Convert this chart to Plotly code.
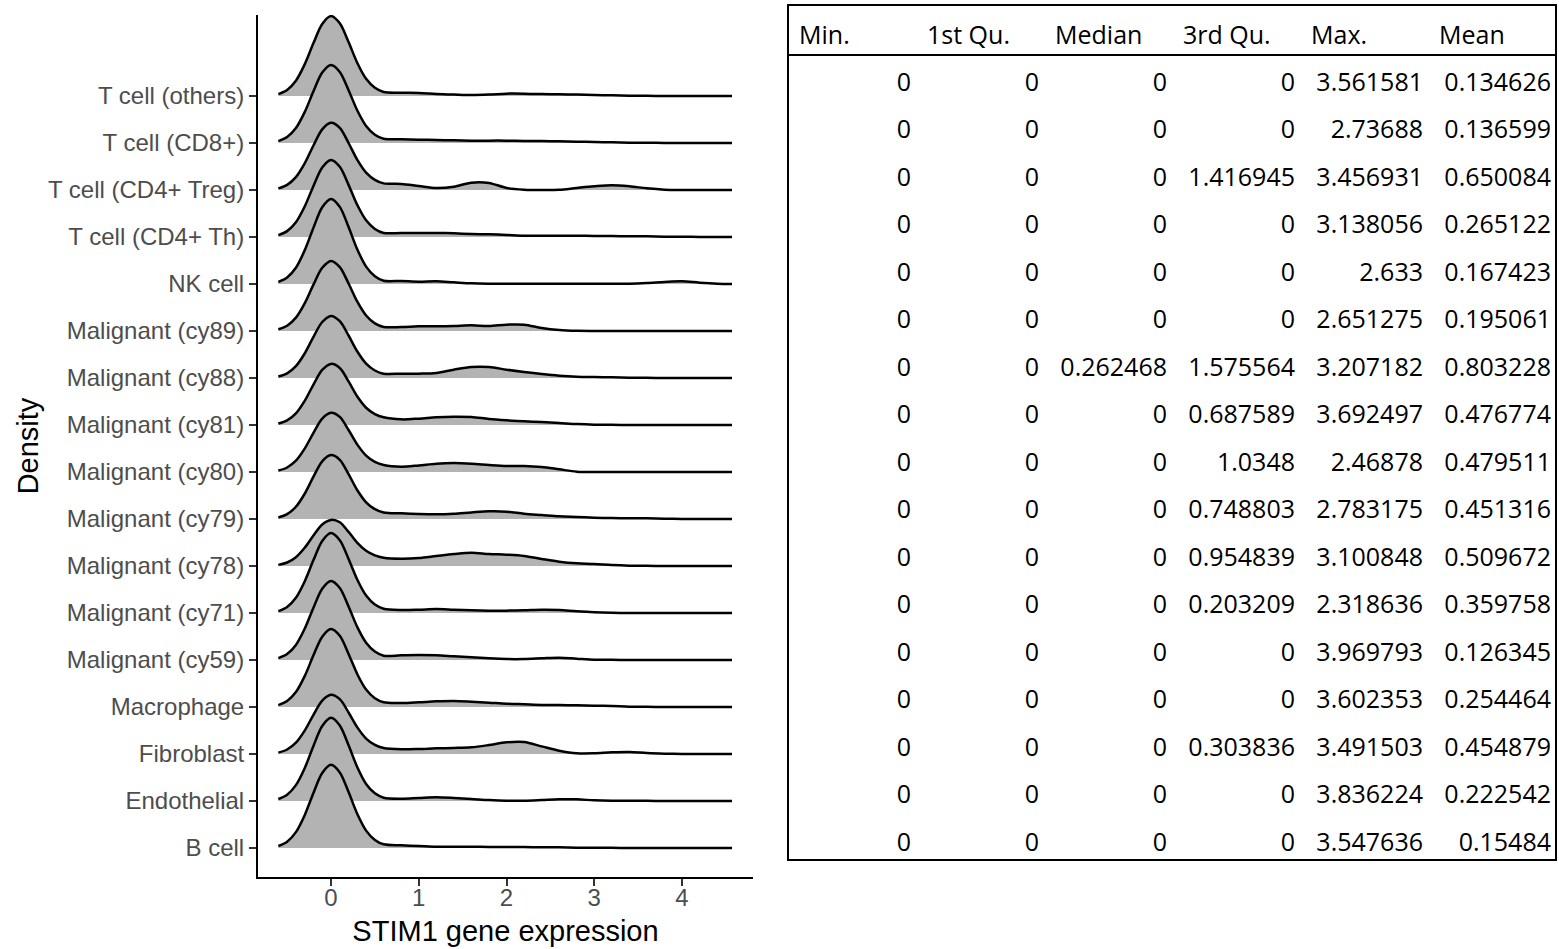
import plotly.graph_objects as go

W, H = 1559, 949

# ---------------- ridgeline data (bottom -> top) ----------------
cell_types = [
    "B cell", "Endothelial", "Fibroblast", "Macrophage",
    "Malignant (cy59)", "Malignant (cy71)", "Malignant (cy78)", "Malignant (cy79)",
    "Malignant (cy80)", "Malignant (cy81)", "Malignant (cy88)", "Malignant (cy89)",
    "NK cell", "T cell (CD4+ Th)", "T cell (CD4+ Treg)", "T cell (CD8+)", "T cell (others)",
]

x_grid = [-0.6, -0.5, -0.4, -0.3, -0.2, -0.1, 0.0, 0.1, 0.2, 0.3, 0.4, 0.5, 0.6,
          0.8, 1.0, 1.2, 1.4, 1.6, 1.8, 2.0, 2.2, 2.4, 2.6, 2.8, 3.0, 3.2, 3.4,
          3.6, 3.8, 4.0, 4.2, 4.4, 4.57]

dens_b_cell = [0.042, 0.135, 0.338, 0.699, 1.172, 1.597, 1.77, 1.608, 1.190, 0.724, 0.370, 0.171, 0.078,
               0.057, 0.043, 0.028, 0.028, 0.028, 0.02, 0.02, 0.02, 0.014, 0.014, 0.007, 0.005, 0.003, 0.002,
               0.001, 0, 0, 0, 0, 0]
dens_endothelial = [0.042, 0.135, 0.338, 0.699, 1.172, 1.597, 1.77, 1.605, 1.186, 0.719, 0.363, 0.163, 0.07,
                    0.05, 0.064, 0.078, 0.064, 0.043, 0.02, 0.007, 0.007, 0.02, 0.035, 0.035, 0.014, 0.005, 0.003,
                    0.003, 0.002, 0, 0, 0, 0]
dens_fibroblast = [0.030, 0.096, 0.241, 0.498, 0.834, 1.137, 1.26, 1.166, 0.883, 0.567, 0.329, 0.194, 0.128,
                   0.1, 0.106, 0.12, 0.128, 0.142, 0.19, 0.248, 0.255, 0.163, 0.07, 0.014, 0.014, 0.035, 0.043,
                   0.02, 0.007, 0, 0, 0, 0]
dens_macrophage = [0.040, 0.126, 0.317, 0.656, 1.099, 1.497, 1.66, 1.515, 1.129, 0.698, 0.371, 0.186, 0.1,
                   0.085, 0.1, 0.12, 0.128, 0.113, 0.092, 0.07, 0.057, 0.043, 0.043, 0.035, 0.028, 0.02, 0.007,
                   0.003, 0, 0, 0, 0, 0]
dens_cy59 = [0.040, 0.128, 0.321, 0.664, 1.112, 1.515, 1.68, 1.531, 1.138, 0.700, 0.368, 0.180, 0.092,
             0.1, 0.106, 0.1, 0.078, 0.057, 0.035, 0.02, 0.02, 0.035, 0.05, 0.028, 0.007, 0.003, 0.002,
             0.002, 0.001, 0, 0, 0, 0]
dens_cy71 = [0.041, 0.129, 0.325, 0.672, 1.125, 1.533, 1.70, 1.548, 1.151, 0.708, 0.371, 0.180, 0.092,
             0.064, 0.07, 0.085, 0.07, 0.057, 0.05, 0.05, 0.057, 0.07, 0.064, 0.035, 0.014, 0.004, 0,
             0, 0, 0, 0, 0, 0]
dens_cy78 = [0.024, 0.074, 0.187, 0.387, 0.649, 0.884, 0.98, 0.930, 0.726, 0.494, 0.325, 0.227, 0.177,
             0.156, 0.17, 0.213, 0.255, 0.284, 0.255, 0.24, 0.213, 0.15, 0.092, 0.057, 0.043, 0.02, 0.007,
             0.003, 0, 0, 0, 0, 0]
dens_cy79 = [0.033, 0.103, 0.260, 0.537, 0.900, 1.227, 1.36, 1.259, 0.954, 0.612, 0.356, 0.210, 0.14,
             0.12, 0.106, 0.1, 0.113, 0.14, 0.163, 0.156, 0.113, 0.085, 0.057, 0.043, 0.028, 0.02, 0.014,
             0.014, 0.007, 0, 0, 0, 0]
dens_cy80 = [0.030, 0.096, 0.241, 0.498, 0.834, 1.137, 1.26, 1.173, 0.894, 0.582, 0.349, 0.216, 0.15,
             0.113, 0.14, 0.177, 0.19, 0.177, 0.15, 0.128, 0.128, 0.106, 0.057, 0.007, 0, 0, 0,
             0, 0, 0, 0, 0, 0]
dens_cy81 = [0.031, 0.099, 0.248, 0.514, 0.861, 1.173, 1.30, 1.213, 0.927, 0.606, 0.367, 0.231, 0.163,
             0.12, 0.135, 0.163, 0.177, 0.17, 0.128, 0.1, 0.078, 0.064, 0.043, 0.02, 0.007, 0.003, 0,
             0, 0, 0, 0, 0, 0]
dens_cy88 = [0.032, 0.100, 0.252, 0.521, 0.874, 1.191, 1.32, 1.209, 0.904, 0.563, 0.306, 0.160, 0.092,
             0.092, 0.092, 0.106, 0.177, 0.234, 0.234, 0.177, 0.128, 0.085, 0.05, 0.028, 0.02, 0.014, 0.007,
             0.003, 0, 0, 0, 0, 0]
dens_cy89 = [0.036, 0.113, 0.285, 0.589, 0.986, 1.344, 1.49, 1.359, 1.011, 0.623, 0.329, 0.162, 0.085,
             0.085, 0.1, 0.1, 0.106, 0.12, 0.106, 0.135, 0.135, 0.064, 0.02, 0.003, 0, 0, 0,
             0, 0, 0, 0, 0, 0]
dens_nk = [0.043, 0.138, 0.346, 0.715, 1.198, 1.633, 1.81, 1.641, 1.212, 0.734, 0.370, 0.165, 0.07,
           0.064, 0.05, 0.057, 0.035, 0.014, 0.007, 0.007, 0.007, 0.007, 0.007, 0.007, 0.007, 0.007, 0.007,
           0.02, 0.043, 0.057, 0.028, 0.007, 0]
dens_th = [0.039, 0.125, 0.313, 0.648, 1.086, 1.479, 1.64, 1.493, 1.109, 0.680, 0.354, 0.171, 0.085,
           0.085, 0.085, 0.085, 0.078, 0.064, 0.057, 0.043, 0.028, 0.028, 0.028, 0.028, 0.02, 0.02, 0.014,
           0.014, 0.007, 0.007, 0, 0, 0]
dens_treg = [0.034, 0.109, 0.273, 0.565, 0.947, 1.290, 1.43, 1.322, 1.000, 0.639, 0.368, 0.215, 0.14,
             0.128, 0.085, 0.043, 0.07, 0.156, 0.15, 0.043, 0.007, 0, 0.005, 0.043, 0.078, 0.1, 0.078,
             0.035, 0.007, 0, 0, 0, 0]
dens_cd8 = [0.040, 0.126, 0.317, 0.656, 1.099, 1.497, 1.66, 1.512, 1.124, 0.691, 0.362, 0.176, 0.09,
            0.078, 0.07, 0.064, 0.057, 0.05, 0.05, 0.05, 0.043, 0.043, 0.035, 0.028, 0.02, 0.014, 0.007,
            0.004, 0.002, 0, 0, 0, 0]
dens_others = [0.041, 0.129, 0.325, 0.672, 1.125, 1.533, 1.70, 1.546, 1.147, 0.703, 0.365, 0.173, 0.085,
               0.07, 0.064, 0.043, 0.03, 0.02, 0.03, 0.05, 0.05, 0.04, 0.035, 0.03, 0.02, 0.014, 0.007,
               0.004, 0, 0, 0, 0, 0]

densities = [dens_b_cell, dens_endothelial, dens_fibroblast, dens_macrophage, dens_cy59, dens_cy71,
             dens_cy78, dens_cy79, dens_cy80, dens_cy81, dens_cy88, dens_cy89, dens_nk, dens_th,
             dens_treg, dens_cd8, dens_others]

x_ticks = [0, 1, 2, 3, 4]

# ---------------- summary table (top row first) ----------------
table_header = ["Min.", "1st Qu.", "Median", "3rd Qu.", "Max.", "Mean"]
tbl_min = [0, 0, 0, 0, 0, 0, 0, 0, 0, 0, 0, 0, 0, 0, 0, 0, 0]
tbl_q1 = [0, 0, 0, 0, 0, 0, 0, 0, 0, 0, 0, 0, 0, 0, 0, 0, 0]
tbl_median = [0, 0, 0, 0, 0, 0, 0.262468, 0, 0, 0, 0, 0, 0, 0, 0, 0, 0]
tbl_q3 = [0, 0, 1.416945, 0, 0, 0, 1.575564, 0.687589, 1.0348, 0.748803, 0.954839,
          0.203209, 0, 0, 0.303836, 0, 0]
tbl_max = [3.561581, 2.73688, 3.456931, 3.138056, 2.633, 2.651275, 3.207182, 3.692497,
           2.46878, 2.783175, 3.100848, 2.318636, 3.969793, 3.602353, 3.491503, 3.836224, 3.547636]
tbl_mean = [0.134626, 0.136599, 0.650084, 0.265122, 0.167423, 0.195061, 0.803228, 0.476774,
            0.479511, 0.451316, 0.509672, 0.359758, 0.126345, 0.254464, 0.454879, 0.222542, 0.15484]

# ---------------- figure ----------------
fig = go.Figure()

FILL = "#B3B3B3"
for i in range(len(cell_types) - 1, -1, -1):
    base = [i] * len(x_grid)
    top = [i + d for d in densities[i]]
    fig.add_trace(go.Scatter(x=x_grid, y=base, mode="lines", line=dict(width=0, color=FILL),
                             hoverinfo="skip", showlegend=False))
    fig.add_trace(go.Scatter(x=x_grid, y=top, mode="lines", fill="tonexty", fillcolor=FILL,
                             line=dict(color="black", width=2.5, shape="spline", smoothing=0.9),
                             name=cell_types[i], showlegend=False))

fig.add_trace(go.Table(
    domain=dict(x=[791 / W, 1.0], y=[1 - 875 / H, 1 - 17 / H]),
    columnwidth=[1, 1, 1, 1, 1, 1],
    header=dict(values=table_header, align="left", height=47,
                font=dict(family="Open Sans", size=25, color="black"),
                fill_color="white", line=dict(color="rgba(0,0,0,0)", width=0)),
    cells=dict(values=[tbl_min, tbl_q1, tbl_median, tbl_q3, tbl_max, tbl_mean],
               align="right", height=47.5,
               font=dict(family="Open Sans", size=25, color="black"),
               fill_color="white", line=dict(color="rgba(0,0,0,0)", width=0)),
))

# table frame and header rule
fig.add_shape(type="rect", xref="paper", yref="paper",
              x0=788 / W, x1=1556 / W, y0=1 - 860 / H, y1=1 - 5 / H,
              line=dict(color="black", width=2), fillcolor="rgba(0,0,0,0)")
fig.add_shape(type="line", xref="paper", yref="paper",
              x0=788 / W, x1=1556 / W, y0=1 - 55 / H, y1=1 - 55 / H,
              line=dict(color="black", width=2))

fig.update_layout(
    width=W, height=H,
    margin=dict(l=0, r=0, t=0, b=0),
    paper_bgcolor="white", plot_bgcolor="white",
    font=dict(family="Liberation Sans, Arial, sans-serif"),
    xaxis=dict(
        domain=[258 / W, 753 / W], range=[-0.832, 4.809],
        tickvals=x_ticks, ticktext=[str(v) for v in x_ticks],
        showline=True, linecolor="black", linewidth=2,
        ticks="outside", ticklen=7, tickwidth=2, tickcolor="#333333",
        tickfont=dict(size=24, color="#4D4D4D"), ticklabelstandoff=-9,
        showgrid=False, zeroline=False, automargin=False,
        title=dict(text="STIM1 gene expression", font=dict(size=29, color="black"), standoff=11),
    ),
    yaxis=dict(
        domain=[1 - 877 / H, 1 - 15 / H], range=[-0.617, 17.723],
        tickvals=list(range(len(cell_types))), ticktext=cell_types,
        showline=True, linecolor="black", linewidth=2,
        ticks="outside", ticklen=7, tickwidth=2, tickcolor="#333333",
        tickfont=dict(size=24, color="#4D4D4D"),
        showgrid=False, zeroline=False, automargin=False,
        title=dict(text="Density", font=dict(size=29, color="black"), standoff=1),
    ),
)

fig.write_html("out.html", config={"displayModeBar": False},
               post_script="document.body.style.margin='0';document.body.style.padding='0';"
                           "document.body.style.overflow='hidden';")
